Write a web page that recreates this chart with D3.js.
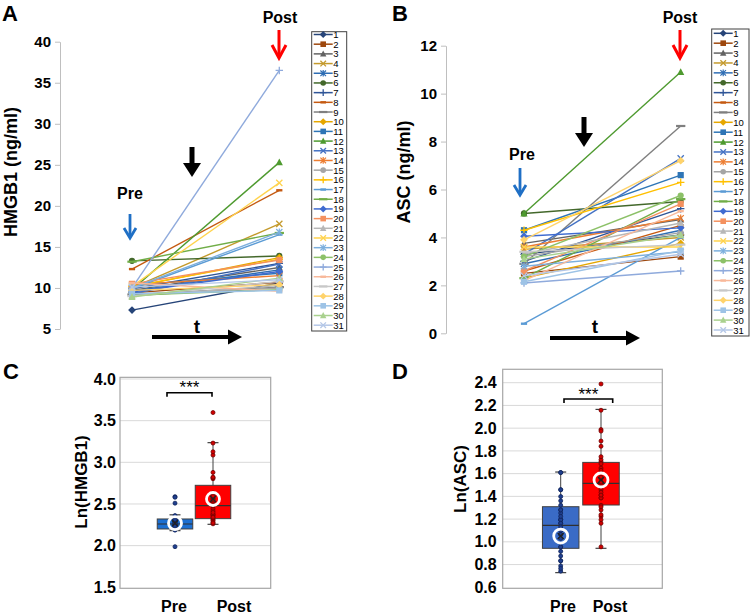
<!DOCTYPE html>
<html><head><meta charset="utf-8">
<script src="https://cdn.jsdelivr.net/npm/d3@7"></script>
<style>body{margin:0;background:#fff;} svg{display:block;font-family:"Liberation Sans",Arial,Helvetica,sans-serif;}</style>
</head><body><svg id="c" width="750" height="615"></svg>
<script>
// ---------------- DATA ----------------
const seriesNames = d3.range(1, 32).map(String);
const timepoints = ["Pre", "Post"];
const hmgb1Pre  = [7.3, 9.4, 9.7, 10.0, 9.6, 13.3, 9.9, 12.3, 9.2, 10.1, 10.3, 9.8, 9.3, 10.4, 9.1, 10.2, 9.9, 13.2, 9.5, 10.5, 9.0, 10.2, 10.0, 9.1, 10.0, 10.6, 9.0, 9.7, 9.3, 8.9, 10.1];
const hmgb1Post = [10.6, 10.7, 12.5, 17.8, 12.2, 13.9, 13.0, 21.9, 10.1, 13.7, 11.8, 25.3, 12.9, 11.5, 10.0, 13.5, 16.5, 16.7, 12.0, 13.4, 10.3, 22.8, 16.8, 9.8, 36.5, 9.6, 10.8, 10.4, 9.7, 11.2, 11.0];
const ascPre    = [3.3, 2.5, 3.75, 3.5, 2.9, 5.0, 3.0, 2.6, 2.9, 2.3, 4.3, 5.0, 3.3, 3.6, 3.2, 4.3, 0.4, 2.3, 4.05, 2.6, 3.3, 3.6, 2.8, 3.2, 2.1, 2.2, 3.4, 3.9, 2.15, 3.1, 2.4];
const ascPost   = [4.1, 3.2, 4.75, 4.0, 4.3, 5.5, 5.2, 4.5, 8.65, 3.75, 6.6, 10.9, 7.3, 4.8, 4.2, 6.3, 4.0, 5.6, 4.4, 5.4, 4.6, 3.6, 3.4, 5.75, 2.6, 5.1, 3.7, 7.2, 3.45, 4.1, 3.3];
const ticksA = [5, 10, 15, 20, 25, 30, 35, 40];
const ticksB = [0, 2, 4, 6, 8, 10, 12];
const ticksC = [1.5, 2.0, 2.5, 3.0, 3.5, 4.0];
const ticksD = [0.6, 0.8, 1.0, 1.2, 1.4, 1.6, 1.8, 2.0, 2.2, 2.4];
const boxHmgbPre  = [2.18, 2.20, 2.26, 2.32, 2.37, 2.27];
const boxHmgbPost = [2.256, 2.324, 2.48, 2.724, 3.236, 2.56];
const boxAscPre   = [0.729, 0.943, 1.145, 1.309, 1.614, 1.051];
const boxAscPost  = [0.943, 1.324, 1.515, 1.699, 2.165, 1.544];

// ---------------- STYLES ----------------
const seriesColors = ["#264478","#9E480E","#636363","#C49A2C","#2E6DB4","#43682B","#2F5597","#C55A11","#7F7F7F","#E6A700",
  "#2E75B6","#4E9A2F","#4472C4","#ED7D31","#A5A5A5","#FFC000","#5B9BD5","#70AD47","#3F6BD0","#F4915F",
  "#B7B7B7","#FFD34D","#7CAFDD","#8CC168","#8FAADC","#F8B89A","#C8C8C8","#FFD36B","#9DC3E6","#A9D18E","#B4C7E7"];
const markerCycle = ["diamond","square","triangle","x","star","circle","plus","dash","longdash"];
const seriesMarkers = seriesNames.map((d, i) => markerCycle[i % 9]);

const svg = d3.select("#c");

function drawMarker(g, type, color, cx, cy, k) {
  const s = 3.1 * k;
  switch (type) {
    case "diamond": g.append("path").attr("d", `M${cx},${cy-s*1.25}L${cx+s*1.25},${cy}L${cx},${cy+s*1.25}L${cx-s*1.25},${cy}Z`).attr("fill", color); break;
    case "square": g.append("rect").attr("x", cx-s).attr("y", cy-s).attr("width", 2*s).attr("height", 2*s).attr("fill", color); break;
    case "triangle": g.append("path").attr("d", `M${cx},${cy-s*1.25}L${cx+s*1.15},${cy+s*0.95}L${cx-s*1.15},${cy+s*0.95}Z`).attr("fill", color); break;
    case "x": g.append("path").attr("d", `M${cx-s},${cy-s}L${cx+s},${cy+s}M${cx-s},${cy+s}L${cx+s},${cy-s}`).attr("stroke", color).attr("stroke-width", 1.3).attr("fill", "none"); break;
    case "star": g.append("path").attr("d", `M${cx-s},${cy-s}L${cx+s},${cy+s}M${cx-s},${cy+s}L${cx+s},${cy-s}M${cx},${cy-s*1.2}L${cx},${cy+s*1.2}`).attr("stroke", color).attr("stroke-width", 1.2).attr("fill", "none"); break;
    case "circle": g.append("circle").attr("cx", cx).attr("cy", cy).attr("r", s).attr("fill", color); break;
    case "plus": g.append("path").attr("d", `M${cx-s*1.2},${cy}L${cx+s*1.2},${cy}M${cx},${cy-s*1.2}L${cx},${cy+s*1.2}`).attr("stroke", color).attr("stroke-width", 1.3).attr("fill", "none"); break;
    case "dash": g.append("path").attr("d", `M${cx-s},${cy}L${cx+s},${cy}`).attr("stroke", color).attr("stroke-width", 2.4); break;
    case "longdash": g.append("path").attr("d", `M${cx-s*1.5},${cy}L${cx+s*1.5},${cy}`).attr("stroke", color).attr("stroke-width", 2.2); break;
  }
}

function openArrowDown(x, y1, y2, color, hw, hh, sw) {
  svg.append("path").attr("d", `M${x},${y1}L${x},${y2-1}`).attr("stroke", color).attr("stroke-width", sw).attr("fill", "none");
  svg.append("path").attr("d", `M${x-hw},${y2-hh}L${x},${y2}L${x+hw},${y2-hh}`).attr("stroke", color).attr("stroke-width", sw).attr("fill", "none");
}
function blockArrowDown(x, y1, y2) {
  svg.append("rect").attr("x", x-2.5).attr("y", y1).attr("width", 5).attr("height", y2-y1-13).attr("fill", "#000");
  svg.append("path").attr("d", `M${x-9},${y2-14}L${x+9},${y2-14}L${x},${y2}Z`).attr("fill", "#000");
}
function rightArrow(x1, x2, y) {
  svg.append("rect").attr("x", x1).attr("y", y-2).attr("width", x2-x1-12).attr("height", 4).attr("fill", "#000");
  svg.append("path").attr("d", `M${x2-14},${y-7.5}L${x2},${y}L${x2-14},${y+7.5}Z`).attr("fill", "#000");
}

function linePanel(opts) {
  const { pre, post, x0, x1, yTop, yBot, dom, ticks, axisX, title, titleX, titleY, letter, letterX, legend } = opts;
  const x = d3.scalePoint().domain(timepoints).range([x0, x1]);
  const y = d3.scaleLinear().domain(dom).range([yBot, yTop]);
  const ax = svg.append("g").attr("transform", `translate(${axisX},0)`)
    .call(d3.axisLeft(y).tickValues(ticks).tickSize(5).tickSizeOuter(0).tickPadding(4));
  ax.select(".domain").attr("stroke", "#BFBFBF");
  ax.selectAll(".tick line").attr("stroke", "#BFBFBF");
  ax.selectAll(".tick text").attr("fill", "#000").attr("font-size", 15).attr("font-weight", "bold")
    .attr("font-family", '"Liberation Sans",Arial,sans-serif');
  svg.append("text").attr("transform", `translate(${titleX},${titleY}) rotate(-90)`).attr("text-anchor", "middle")
    .attr("font-size", 18).attr("font-weight", "bold").text(title);
  svg.append("text").attr("x", letterX).attr("y", 21).attr("font-size", 22).attr("font-weight", "bold").text(letter);
  const line = d3.line().x(d => x(d.t)).y(d => y(d.v));
  const g = svg.append("g");
  seriesNames.forEach((s, i) => {
    const pts = [{ t: "Pre", v: pre[i] }, { t: "Post", v: post[i] }];
    g.append("path").datum(pts).attr("d", line).attr("stroke", seriesColors[i]).attr("stroke-width", 1.4).attr("fill", "none");
    pts.forEach(p => drawMarker(g, seriesMarkers[i], seriesColors[i], x(p.t), y(p.v), 1));
  });
  const L = legend;
  const lg = svg.append("g");
  lg.append("rect").attr("x", L.left).attr("y", L.top).attr("width", L.right - L.left).attr("height", L.bottom - L.top)
    .attr("fill", "#fff").attr("stroke", "#404040").attr("stroke-width", 1);
  seriesNames.forEach((s, i) => {
    const yy = L.first + i * L.step;
    lg.append("line").attr("x1", L.left + 2).attr("x2", L.left + 21).attr("y1", yy).attr("y2", yy)
      .attr("stroke", seriesColors[i]).attr("stroke-width", 1.5);
    drawMarker(lg, seriesMarkers[i], seriesColors[i], L.left + 11.5, yy, 0.9);
    lg.append("text").attr("x", L.left + 21.5).attr("y", yy + 3.5).attr("font-size", 9.5).attr("fill", "#000").text(s);
  });
}

// Panel A
linePanel({ pre: hmgb1Pre, post: hmgb1Post, x0: 132, x1: 279.3, yTop: 41.7, yBot: 329, dom: [5, 40], ticks: ticksA,
  axisX: 60, title: "HMGB1 (ng/ml)", titleX: 16.5, titleY: 172, letter: "A", letterX: 2,
  legend: { left: 311.7, right: 346.7, top: 31.7, bottom: 331, first: 34.5, step: 9.69 } });
// Panel B
linePanel({ pre: ascPre, post: ascPost, x0: 524, x1: 680.7, yTop: 45.7, yBot: 333.3, dom: [0, 12], ticks: ticksB,
  axisX: 446, title: "ASC (ng/ml)", titleX: 410, titleY: 172, letter: "B", letterX: 392,
  legend: { left: 711.7, right: 749, top: 29, bottom: 336, first: 33.3, step: 9.89 } });

// annotations A
svg.append("text").attr("x", 130).attr("y", 199).attr("text-anchor", "middle").attr("font-size", 16).attr("font-weight", "bold").text("Pre");
openArrowDown(130, 214, 238, "#1F6FC5", 6, 10, 2.8);
svg.append("text").attr("x", 280).attr("y", 23).attr("text-anchor", "middle").attr("font-size", 16).attr("font-weight", "bold").text("Post");
openArrowDown(279, 30, 58, "#FF0000", 7, 13, 3);
blockArrowDown(192, 147, 177);
svg.append("text").attr("x", 197).attr("y", 333).attr("text-anchor", "middle").attr("font-size", 19).attr("font-weight", "bold").text("t");
rightArrow(152, 242, 337);
// annotations B
svg.append("text").attr("x", 522).attr("y", 160).attr("text-anchor", "middle").attr("font-size", 16).attr("font-weight", "bold").text("Pre");
openArrowDown(520, 168, 195, "#1F6FC5", 6, 10, 2.8);
svg.append("text").attr("x", 680).attr("y", 23).attr("text-anchor", "middle").attr("font-size", 16).attr("font-weight", "bold").text("Post");
openArrowDown(680, 30, 58, "#FF0000", 7, 13, 3);
blockArrowDown(584, 117, 147);
svg.append("text").attr("x", 595).attr("y", 333).attr("text-anchor", "middle").attr("font-size", 19).attr("font-weight", "bold").text("t");
rightArrow(550, 640, 338);

// ---------------- BOX PANELS ----------------
function boxPanel(o) {
  const y = d3.scaleLinear().domain(o.dom).range([o.yBot, o.yTop]);
  const g = svg.append("g");
  const fTop = y(o.frameMax);
  g.append("text").attr("x", o.letterX).attr("y", o.letterY).attr("font-size", 22).attr("font-weight", "bold").text(o.letter);
  o.ticks.forEach(t => {
    if (t > o.dom[0] && t < o.frameMax - 1e-6)
      g.append("line").attr("x1", o.left).attr("x2", o.right).attr("y1", y(t)).attr("y2", y(t)).attr("stroke", "#D9D9D9").attr("stroke-width", 1);
  });
  g.append("rect").attr("x", o.left).attr("y", fTop).attr("width", o.right - o.left).attr("height", o.yBot + 1 - fTop)
    .attr("fill", "none").attr("stroke", "#A6A6A6").attr("stroke-width", 1.2);
  const ax = g.append("g").attr("transform", `translate(${o.left},0)`)
    .call(d3.axisLeft(y).tickValues(o.ticks).tickSize(0).tickPadding(o.pad).tickFormat(d3.format(".1f")));
  ax.select(".domain").remove();
  ax.selectAll(".tick text").attr("fill", "#000").attr("font-size", 16).attr("font-weight", "bold")
    .attr("font-family", '"Liberation Sans",Arial,sans-serif');
  g.append("text").attr("transform", `translate(${o.titleX},${o.titleY}) rotate(-90)`).attr("text-anchor", "middle")
    .attr("font-size", 17).attr("font-weight", "bold").text(o.title);
  const x = d3.scaleOrdinal().domain(timepoints).range(o.centers);
  const groups = [
    { t: "Pre", st: o.pre, vals: o.preVals, fill: o.preFill, dot: "#1F3F8F", dotS: "#10245A" },
    { t: "Post", st: o.post, vals: o.postVals, fill: "#FF0000", dot: "#D00000", dotS: "#700000" }
  ];
  groups.forEach(gr => {
    const cx = x(gr.t), w = o.boxW;
    const [lo, q1, med, q3, hi, mean] = gr.st;
    g.append("line").attr("x1", cx).attr("x2", cx).attr("y1", y(hi)).attr("y2", y(lo)).attr("stroke", "#404040").attr("stroke-width", 1);
    [hi, lo].forEach(v => g.append("line").attr("x1", cx - 5.5).attr("x2", cx + 5.5).attr("y1", y(v)).attr("y2", y(v)).attr("stroke", "#404040").attr("stroke-width", 1.2));
    g.append("rect").attr("x", cx - w / 2).attr("y", y(q3)).attr("width", w).attr("height", y(q1) - y(q3))
      .attr("fill", gr.fill).attr("stroke", "#404040").attr("stroke-width", 1);
    g.append("line").attr("x1", cx - w / 2).attr("x2", cx + w / 2).attr("y1", y(med)).attr("y2", y(med)).attr("stroke", "#303030").attr("stroke-width", 1.2);
    gr.vals.map(Math.log).filter(v => v >= o.dom[0] && v <= o.frameMax).forEach(v => {
      g.append("circle").attr("cx", cx).attr("cy", y(v)).attr("r", 2.0).attr("fill", gr.dot).attr("stroke", gr.dotS).attr("stroke-width", 0.8);
    });
    const my = y(mean);
    g.append("path").attr("d", `M${cx-3},${my-3}L${cx+3},${my+3}M${cx-3},${my+3}L${cx+3},${my-3}`).attr("stroke", "#222").attr("stroke-width", 1.4);
    g.append("circle").attr("cx", cx).attr("cy", my).attr("r", o.ringR).attr("fill", "none").attr("stroke", "#fff").attr("stroke-width", 2.8);
  });
  const b = o.bracket;
  g.append("path").attr("d", `M${b.x1},${b.y + 4}V${b.y}H${b.x2}V${b.y + 4}`).attr("fill", "none").attr("stroke", "#000").attr("stroke-width", 1.6);
  g.append("text").attr("x", (b.x1 + b.x2) / 2).attr("y", b.ty).attr("text-anchor", "middle").attr("font-size", 17).text("***");
  o.labelX.forEach((lx, i) => g.append("text").attr("x", lx).attr("y", 612).attr("text-anchor", "middle")
    .attr("font-size", 16).attr("font-weight", "bold").text(timepoints[i]));
}

boxPanel({ letter: "C", letterX: 3, letterY: 379, dom: [1.5, 4.0], frameMax: 4.02, yTop: 379, yBot: 587.3, ticks: ticksC,
  left: 120, right: 270.7, pad: 4, title: "Ln(HMGB1)", titleX: 87, titleY: 482,
  centers: [175, 213], boxW: 35.5, pre: boxHmgbPre, post: boxHmgbPost, preVals: hmgb1Pre, postVals: hmgb1Post,
  preFill: "#1C6FD1", ringR: 6.5, bracket: { x1: 167, x2: 212, y: 392.7, ty: 393 }, labelX: [174, 234] });

boxPanel({ letter: "D", letterX: 392, letterY: 379, dom: [0.6, 2.4], frameMax: 2.518, yTop: 382.7, yBot: 587.3, ticks: ticksD,
  left: 502.7, right: 662.3, pad: 6, title: "Ln(ASC)", titleX: 466, titleY: 479,
  centers: [560.7, 601], boxW: 36.5, pre: boxAscPre, post: boxAscPost, preVals: ascPre, postVals: ascPost,
  preFill: "#3A6BC6", ringR: 7, bracket: { x1: 564, x2: 612.7, y: 399, ty: 400 }, labelX: [563, 610] });
</script>
</body></html>
